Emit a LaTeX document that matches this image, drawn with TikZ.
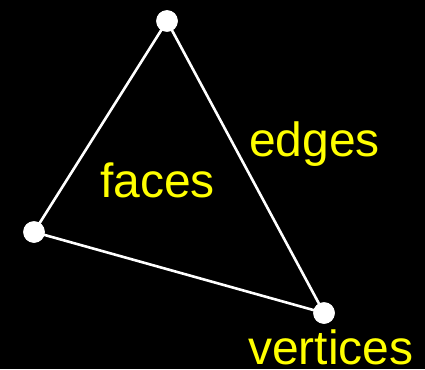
\documentclass[tikz,border=0pt]{standalone}
\usepackage{fontspec}
\setmainfont{Liberation Sans}
\usetikzlibrary{positioning}
\definecolor{trInk}{HTML}{FFFFFF}
\definecolor{trLabel}{HTML}{FFFF00}
\definecolor{trBack}{HTML}{000000}
\tikzset{
  tr canvas/.style={fill=trBack},
  tr vertex/.style={circle, fill=trInk, draw=none, minimum size=21.5pt, inner sep=0pt},
  tr edge/.style={draw=trInk, line width=2.6pt},
  tr label/.style={text=trLabel, inner sep=0pt, anchor=base west,
    font=\fontsize{48}{52}\selectfont}
}
\begin{document}
\begin{tikzpicture}[x=1pt,y=-1pt]
  \path[tr canvas] (0,0) rectangle (425,369);
  \useasboundingbox (0,0) rectangle (425,369);
  \node[tr vertex] (top) at (167,21) {};
  \node[tr vertex] (left) at (34,232) {};
  \node[tr vertex] (right) at (324,313) {};

  \draw[tr edge] (top.center) -- (left.center) -- (right.center) -- cycle;
  \node[tr vertex] at (top) {};
  \node[tr vertex] at (left) {};
  \node[tr vertex] at (right) {};

  \node[tr label] (edgeslabel) at (249,156) {edges};
  \node[tr label] (faceslabel) at (100,197) {faces};
  \node[tr label] (verticeslabel) at (248,364) {vertices};
\end{tikzpicture}
\end{document}
